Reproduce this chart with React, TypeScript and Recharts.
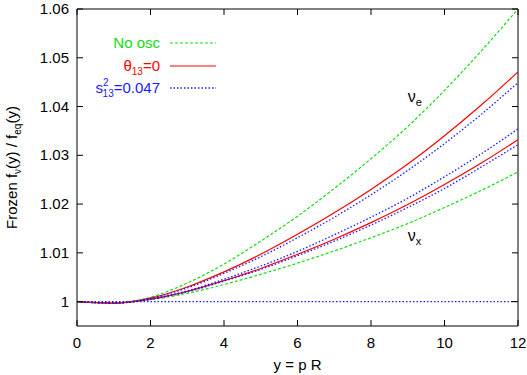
import React from 'react';
import {
  LineChart,
  Line,
  XAxis,
  YAxis,
  Legend,
  Label,
  ReferenceArea,
  ReferenceDot,
} from 'recharts';

// x values (y = p R)
const xs = [0, 1, 2, 3, 4, 5, 6, 7, 8, 9, 10, 11, 12];

// green dashed: no oscillations (nu_e top, nu_x bottom)
const noOscE = [1.0, 0.9997, 1.0009, 1.0038, 1.0077, 1.0124, 1.0175, 1.0232, 1.0293, 1.0359, 1.0433, 1.0514, 1.06];
const noOscX = [1.0, 0.9997, 1.0004, 1.0017, 1.0035, 1.0056, 1.0079, 1.0104, 1.0131, 1.016, 1.0193, 1.0228, 1.0266];

// red solid: theta13 = 0
const th0E = [1.0, 0.9997, 1.0007, 1.003, 1.0061, 1.0097, 1.0138, 1.0182, 1.023, 1.0282, 1.034, 1.0403, 1.0471];
const th0X = [1.0, 0.9997, 1.0005, 1.0021, 1.0043, 1.0068, 1.0097, 1.0128, 1.0162, 1.0199, 1.024, 1.0284, 1.0332];

// blue dotted: s13^2 = 0.047
const s13E = [1.0, 0.9997, 1.0007, 1.0028, 1.0058, 1.0092, 1.0131, 1.0173, 1.0219, 1.0269, 1.0324, 1.0384, 1.0449];
const s13Mu = [1.0, 0.9997, 1.0005, 1.0022, 1.0046, 1.0073, 1.0103, 1.0137, 1.0173, 1.0212, 1.0256, 1.0303, 1.0354];
const s13Tau = [1.0, 0.9997, 1.0005, 1.002, 1.0042, 1.0066, 1.0094, 1.0124, 1.0157, 1.0193, 1.0232, 1.0276, 1.0322];
const flat = [1, 1, 1, 1, 1, 1, 1, 1, 1, 1, 1, 1, 1];

const xTicks = [0, 2, 4, 6, 8, 10, 12];
const yTicks = [1, 1.01, 1.02, 1.03, 1.04, 1.05, 1.06];

const data = xs.map((x, i) => ({
  x,
  noOscE: noOscE[i],
  noOscX: noOscX[i],
  th0E: th0E[i],
  th0X: th0X[i],
  s13E: s13E[i],
  s13Mu: s13Mu[i],
  s13Tau: s13Tau[i],
  flat: flat[i],
}));

const GREEN = '#11dd11';
const RED = '#ff0000';
const BLUE = '#1a1aff';
const FONT = '"Liberation Sans", Arial, Helvetica, sans-serif';

const PLOT_TOP = 9;
const PLOT_BOTTOM = 326;
const PLOT_LEFT = 77;
const PLOT_RIGHT = 518;

const XTick = (props: any) => {
  const { x, payload } = props;
  return (
    <g>
      <line x1={x} x2={x} y1={PLOT_BOTTOM} y2={PLOT_BOTTOM - 6} stroke="#000" />
      <line x1={x} x2={x} y1={PLOT_TOP} y2={PLOT_TOP + 6} stroke="#000" />
      <text x={x} y={348} textAnchor="middle" fontSize={15} fontFamily={FONT} fill="#000">
        {payload.value}
      </text>
    </g>
  );
};

const YTick = (props: any) => {
  const { y, payload } = props;
  return (
    <g>
      <line x1={PLOT_LEFT} x2={PLOT_LEFT + 6} y1={y} y2={y} stroke="#000" />
      <line x1={PLOT_RIGHT} x2={PLOT_RIGHT - 6} y1={y} y2={y} stroke="#000" />
      <text x={69} y={y} dy={5} textAnchor="end" fontSize={15} fontFamily={FONT} fill="#000">
        {payload.value === 1 ? '1' : payload.value.toFixed(2)}
      </text>
    </g>
  );
};

const YTitle = () => (
  <text
    transform={`translate(17,${(PLOT_TOP + PLOT_BOTTOM) / 2}) rotate(-90)`}
    textAnchor="middle"
    fontSize={15}
    fontFamily={FONT}
    fill="#000"
  >
    Frozen f
    <tspan fontSize={10} dy={4}>ν</tspan>
    <tspan fontSize={15} dy={-4}>(y) / f</tspan>
    <tspan fontSize={10} dy={4}>eq</tspan>
    <tspan fontSize={15} dy={-4}>(y)</tspan>
  </text>
);

const XTitle = () => (
  <text x={(PLOT_LEFT + PLOT_RIGHT) / 2} y={370} textAnchor="middle" fontSize={15} fontFamily={FONT} fill="#000">
    y = p R
  </text>
);

const nuLabel = (sub: string) => (props: any) => {
  const { viewBox } = props;
  return (
    <text x={viewBox.x} y={viewBox.y} fontSize={16} fontFamily={FONT} fill="#000">
      ν
      <tspan fontSize={11} dy={4}>{sub}</tspan>
    </text>
  );
};

const LegendBox = () => (
  <svg width={230} height={100} style={{ fontFamily: FONT }}>
    <text x={160} y={48} textAnchor="end" fontSize={15} fill={GREEN}>No osc</text>
    <line x1={170} x2={216} y1={43} y2={43} stroke={GREEN} strokeWidth={1.2} strokeDasharray="3 2" />
    <text x={160} y={71} textAnchor="end" fontSize={15} fill={RED}>
      θ<tspan fontSize={10} dy={4}>13</tspan>
      <tspan fontSize={15} dy={-4}>=0</tspan>
    </text>
    <line x1={170} x2={216} y1={66} y2={66} stroke={RED} strokeWidth={1.2} />
    <text x={160} y={93} textAnchor="end" fontSize={15} fill={BLUE}>
      s<tspan fontSize={10} dy={-7}>2</tspan>
      <tspan fontSize={10} dx={-6} dy={11}>13</tspan>
      <tspan fontSize={15} dy={-4}>=0.047</tspan>
    </text>
    <line x1={170} x2={216} y1={88} y2={88} stroke={BLUE} strokeWidth={1.3} strokeDasharray="1.5 2" />
  </svg>
);

export default function App() {
  return (
    <div style={{ position: 'absolute', left: 0, top: 0, background: '#fff' }}>
      <LineChart width={527} height={375} data={data} margin={{ top: PLOT_TOP, right: 527 - PLOT_RIGHT, left: 0, bottom: 0 }}>
        <XAxis
          dataKey="x"
          type="number"
          domain={[0, 12]}
          ticks={xTicks}
          height={375 - PLOT_BOTTOM}
          axisLine={false}
          tickLine={false}
          tick={<XTick />}
          interval={0}
        >
          <Label content={<XTitle />} />
        </XAxis>
        <YAxis
          type="number"
          domain={[0.995, 1.06]}
          ticks={yTicks}
          width={PLOT_LEFT}
          axisLine={false}
          tickLine={false}
          tick={<YTick />}
          interval={0}
          allowDataOverflow
        >
          <Label content={<YTitle />} />
        </YAxis>
        <Line type="monotone" dataKey="flat" stroke={BLUE} strokeWidth={1.3} strokeDasharray="1.5 2" dot={false} isAnimationActive={false} />
        <Line type="monotone" dataKey="noOscE" stroke={GREEN} strokeWidth={1.2} strokeDasharray="3 2" dot={false} isAnimationActive={false} />
        <Line type="monotone" dataKey="noOscX" stroke={GREEN} strokeWidth={1.2} strokeDasharray="3 2" dot={false} isAnimationActive={false} />
        <Line type="monotone" dataKey="th0E" stroke={RED} strokeWidth={1.2} dot={false} isAnimationActive={false} />
        <Line type="monotone" dataKey="th0X" stroke={RED} strokeWidth={1.2} dot={false} isAnimationActive={false} />
        <Line type="monotone" dataKey="s13E" stroke={BLUE} strokeWidth={1.3} strokeDasharray="1.5 2" dot={false} isAnimationActive={false} />
        <Line type="monotone" dataKey="s13Mu" stroke={BLUE} strokeWidth={1.3} strokeDasharray="1.5 2" dot={false} isAnimationActive={false} />
        <Line type="monotone" dataKey="s13Tau" stroke={BLUE} strokeWidth={1.3} strokeDasharray="1.5 2" dot={false} isAnimationActive={false} />
        <ReferenceArea x1={0} x2={12} y1={0.995} y2={1.06} fill="none" stroke="#000" strokeWidth={1} fillOpacity={0} />
        <ReferenceDot x={9.0} y={1.041} r={0} fill="none" stroke="none" label={nuLabel('e')} />
        <ReferenceDot x={9.0} y={1.0125} r={0} fill="none" stroke="none" label={nuLabel('x')} />
        <Legend
          layout="horizontal"
          verticalAlign="middle"
          align="center"
          wrapperStyle={{ position: 'absolute', left: 0, top: 0, width: 230, height: 100 }}
          content={() => <LegendBox />}
        />
      </LineChart>
    </div>
  );
}
